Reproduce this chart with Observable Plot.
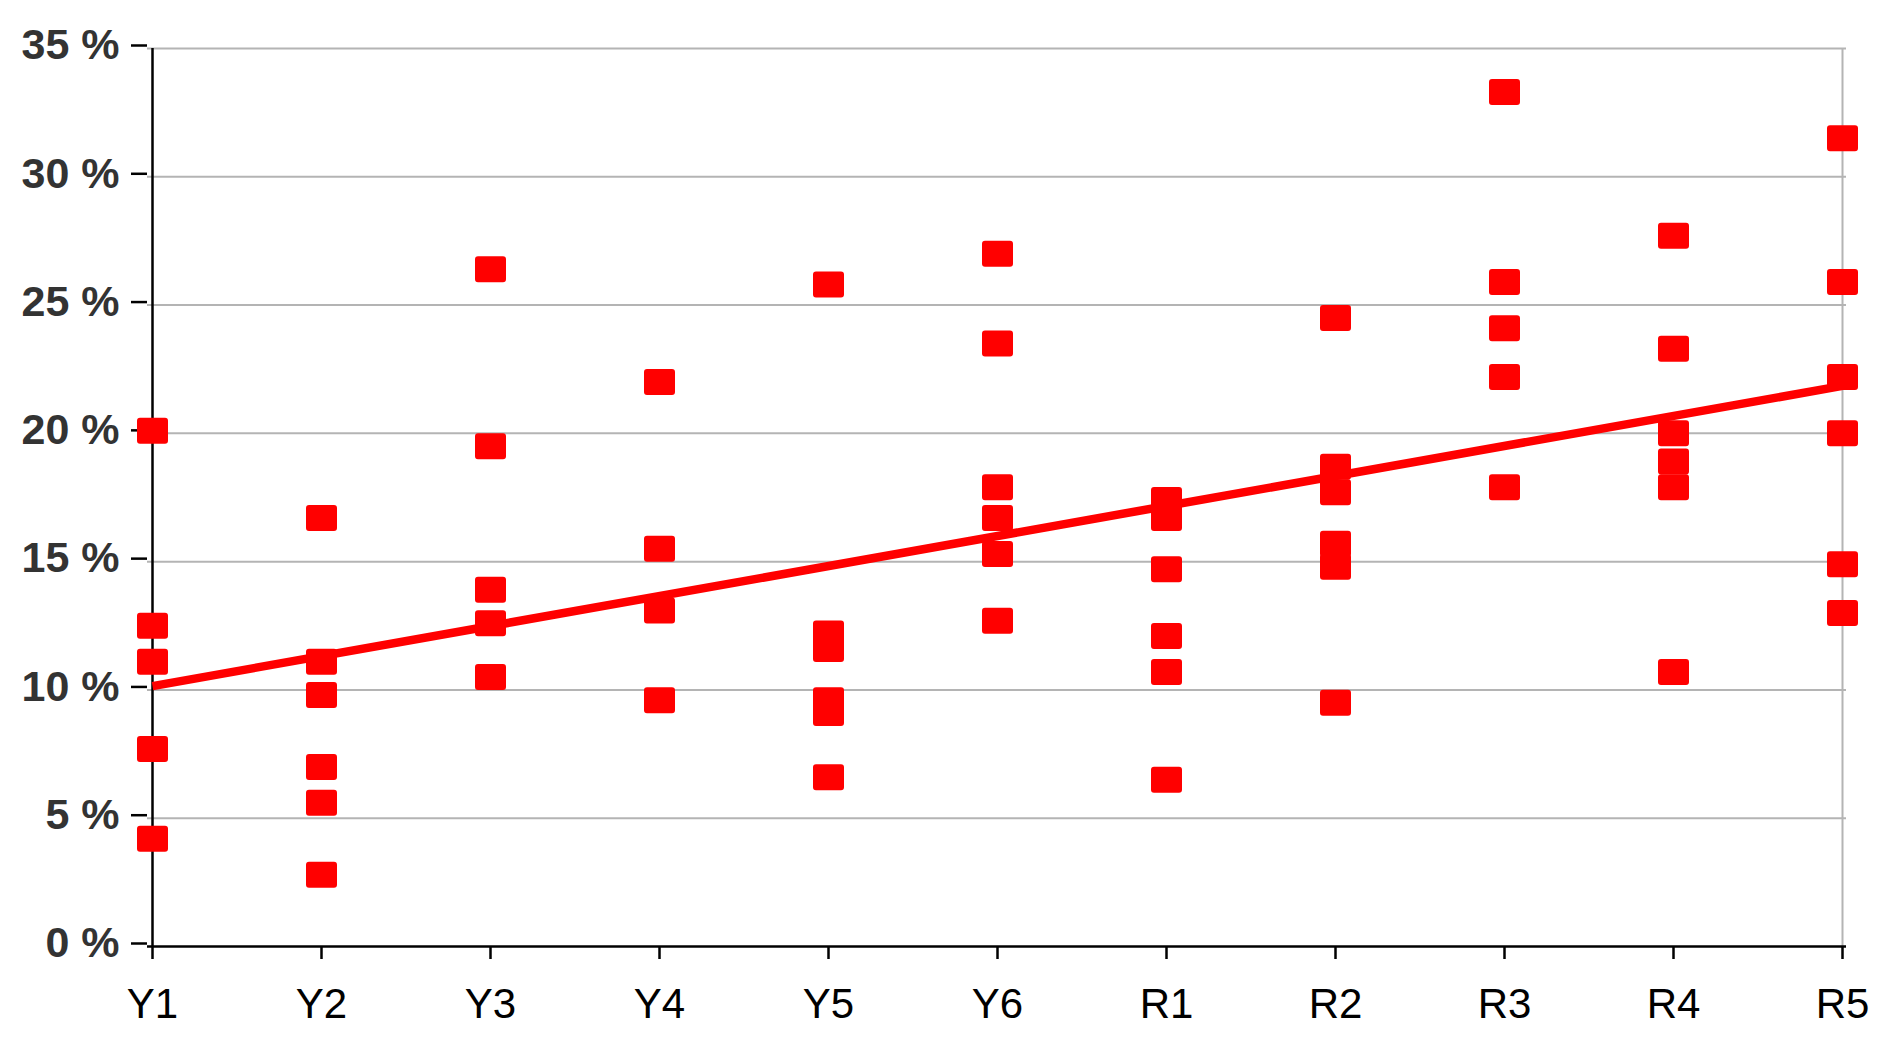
<!DOCTYPE html>
<html>
<head>
<meta charset="utf-8">
<script src="https://cdn.jsdelivr.net/npm/d3@7"></script>
<script src="https://cdn.jsdelivr.net/npm/@observablehq/plot@0.6"></script>
<style>
  html, body { margin: 0; padding: 0; background: #fff; }
  #chart svg { display: block; }
  g[aria-label="y-axis tick label"] text { font-weight: bold; fill: #333; }
  g[aria-label="x-axis tick label"] text { fill: #000; }
</style>
</head>
<body>
<div id="chart"></div>
<script>
// Categories on the x axis
const categories = ["Y1", "Y2", "Y3", "Y4", "Y5", "Y6", "R1", "R2", "R3", "R4", "R5"];

// Observed values (%) per category
const valuesY1 = [20.1, 12.5, 11.1, 7.7, 4.2];
const valuesY2 = [16.7, 11.1, 9.8, 7.0, 5.6, 2.8];
const valuesY3 = [26.4, 19.5, 13.9, 12.6, 10.5];
const valuesY4 = [22.0, 15.5, 13.1, 9.6];
const valuesY5 = [25.8, 12.2, 11.6, 9.6, 9.1, 6.6];
const valuesY6 = [27.0, 23.5, 17.9, 16.7, 15.3, 12.7];
const valuesR1 = [17.4, 16.7, 14.7, 12.1, 10.7, 6.5];
const valuesR2 = [24.5, 18.7, 17.7, 15.7, 14.8, 9.5];
const valuesR3 = [33.3, 25.9, 24.1, 22.2, 17.9];
const valuesR4 = [27.7, 23.3, 20.0, 18.9, 17.9, 10.7];
const valuesR5 = [31.5, 25.9, 22.2, 20.0, 14.9, 13.0];

// Trend line end points
const trendCategories = ["Y1", "R5"];
const trendValues = [10.15, 21.85];

// Y axis ticks
const yTicks = [0, 5, 10, 15, 20, 25, 30, 35];

const seriesList = [valuesY1, valuesY2, valuesY3, valuesY4, valuesY5, valuesY6,
                    valuesR1, valuesR2, valuesR3, valuesR4, valuesR5];
const points = categories.flatMap((c, i) => seriesList[i].map(v => ({cat: c, value: v})));
const trend = trendCategories.map((c, i) => ({cat: c, value: trendValues[i]}));

// Rounded rectangle marker
const roundedSquare = {
  draw(context) {
    const w = 31, h = 26, r = 3;
    const x0 = -w / 2, y0 = -h / 2, x1 = w / 2, y1 = h / 2;
    context.moveTo(x0 + r, y0);
    context.lineTo(x1 - r, y0);
    context.arcTo(x1, y0, x1, y0 + r, r);
    context.lineTo(x1, y1 - r);
    context.arcTo(x1, y1, x1 - r, y1, r);
    context.lineTo(x0 + r, y1);
    context.arcTo(x0, y1, x0, y1 - r, r);
    context.lineTo(x0, y0 + r);
    context.arcTo(x0, y0, x0 + r, y0, r);
    context.closePath();
  }
};

const chart = Plot.plot({
  width: 1899,
  height: 1048,
  marginLeft: 147,
  marginRight: 53,
  marginTop: 48,
  marginBottom: 102,
  style: {fontFamily: "'Liberation Sans', Arial, sans-serif", background: "#fff"},
  x: {type: "point", domain: categories, padding: 0},
  y: {domain: [0, 35]},
  marks: [
    Plot.ruleY(yTicks.filter(d => d > 0), {stroke: "#b4b4b4", strokeWidth: 2}),
    Plot.ruleX([categories[categories.length - 1]], {stroke: "#b4b4b4", strokeWidth: 2}),
    Plot.ruleX([categories[0]], {stroke: "#000", strokeWidth: 2.5}),
    Plot.ruleY([0], {stroke: "#000", strokeWidth: 2.5}),
    Plot.axisY({
      ticks: yTicks, tickSize: 16, tickPadding: 12, strokeWidth: 2.5,
      tickFormat: d => d + " %", fontSize: 43, dy: -3, label: null
    }),
    Plot.axisX({
      tickSize: 13, tickPadding: 29, strokeWidth: 2.5, fontSize: 42, label: null
    }),
    Plot.line(trend, {x: "cat", y: "value", stroke: "#ff0000", strokeWidth: 8.5, strokeLinecap: "butt"}),
    Plot.dot(points, {x: "cat", y: "value", symbol: roundedSquare, r: 10, fill: "#ff0000", stroke: "none"})
  ]
});
document.getElementById("chart").appendChild(chart);
</script>
</body>
</html>
